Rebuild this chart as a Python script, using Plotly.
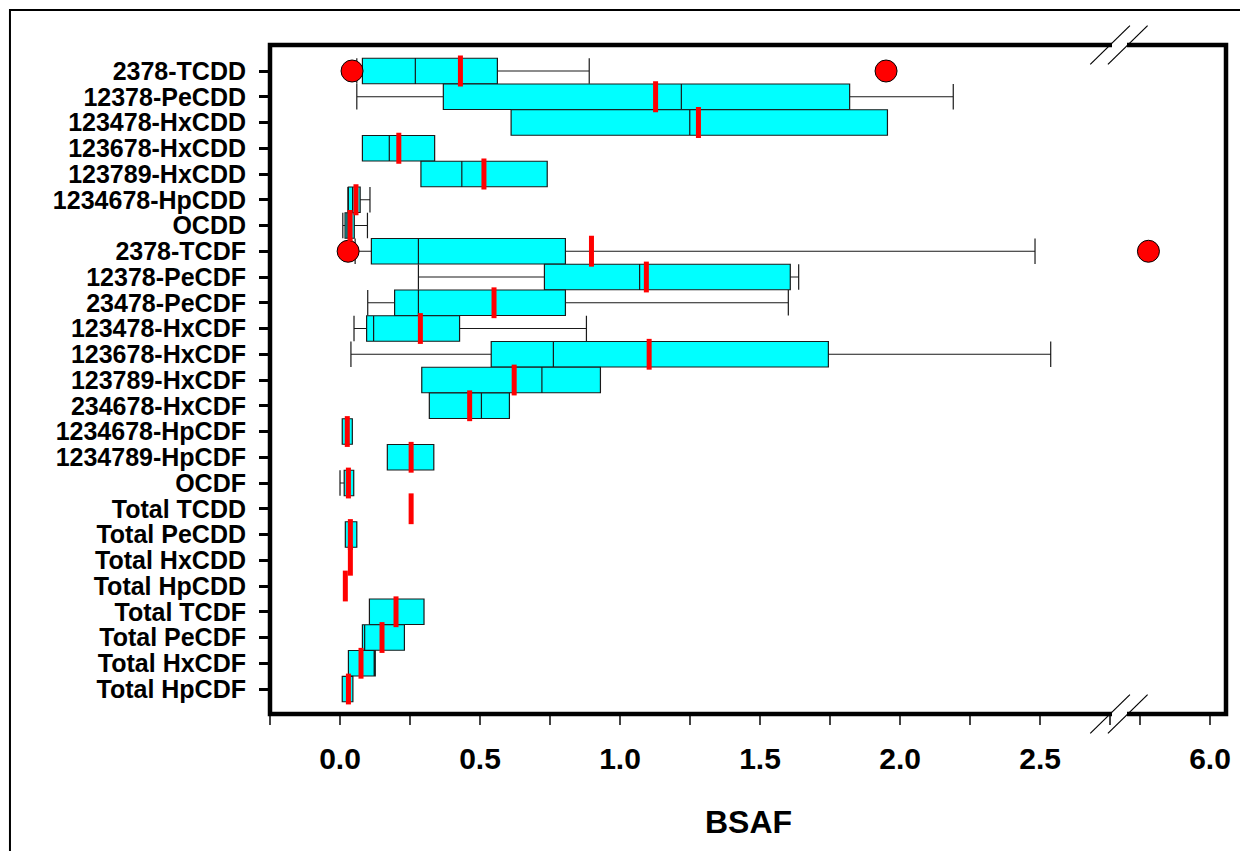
import plotly.graph_objects as go

# ---------------- data ----------------
categories = [
    "2378-TCDD", "12378-PeCDD", "123478-HxCDD", "123678-HxCDD", "123789-HxCDD",
    "1234678-HpCDD", "OCDD", "2378-TCDF", "12378-PeCDF", "23478-PeCDF",
    "123478-HxCDF", "123678-HxCDF", "123789-HxCDF", "234678-HxCDF",
    "1234678-HpCDF", "1234789-HpCDF", "OCDF", "Total TCDD", "Total PeCDD",
    "Total HxCDD", "Total HpCDD", "Total TCDF", "Total PeCDF", "Total HxCDF",
    "Total HpCDF",
]
# box statistics (None = no box for that row)
q1_vals = [0.080, 0.369, 0.611, 0.080, 0.289, 0.030, 0.018, 0.112, 0.730, 0.195,
           0.095, 0.540, 0.292, 0.319, 0.008, 0.169, 0.015, None, 0.019,
           None, None, 0.105, 0.080, 0.030, 0.008]
median_vals = [0.269, 1.219, 1.249, 0.176, 0.435, 0.045, 0.025, 0.280, 1.070, 0.280,
               0.120, 0.762, 0.721, 0.505, 0.026, 0.254, 0.030, None, 0.037,
               None, None, 0.200, 0.088, 0.122, 0.030]
q3_vals = [0.562, 1.820, 1.955, 0.338, 0.740, 0.072, 0.051, 0.805, 1.608, 0.805,
           0.427, 1.744, 0.930, 0.605, 0.044, 0.335, 0.049, None, 0.060,
           None, None, 0.300, 0.230, 0.126, 0.046]
low_whisker = [0.060, 0.060, 0.611, 0.080, 0.289, 0.028, 0.010, 0.054, 0.280, 0.099,
               0.050, 0.039, 0.292, 0.319, 0.008, 0.169, 0.000, None, 0.019,
               None, None, 0.105, 0.080, 0.030, 0.008]
high_whisker = [0.890, 2.190, 1.955, 0.338, 0.740, 0.107, 0.098, 2.482, 1.638, 1.601,
                0.880, 2.538, 0.930, 0.605, 0.044, 0.335, 0.049, None, 0.060,
                None, None, 0.300, 0.230, 0.126, 0.046]
mean_vals = [0.430, 1.127, 1.280, 0.210, 0.514, 0.057, 0.036, 0.898, 1.094, 0.550,
             0.287, 1.104, 0.622, 0.463, 0.026, 0.254, 0.030, 0.254, 0.037,
             0.037, 0.019, 0.200, 0.150, 0.075, 0.030]
outlier_cats = ["2378-TCDD", "2378-TCDD", "2378-TCDF", "2378-TCDF"]
outlier_vals = [0.043, 1.950, 0.029, 5.780]

x_ticks_main = [-0.25, 0.0, 0.25, 0.5, 0.75, 1.0, 1.25, 1.5, 1.75, 2.0, 2.25, 2.5, 2.75]
x_text_main = ["", "0.0", "", "0.5", "", "1.0", "", "1.5", "", "2.0", "", "2.5", ""]
x_ticks_high = [5.75, 6.0]
x_text_high = ["", "6.0"]

AXIS_BREAK = 2.784          # end of the lower segment
RANGE_LOW = [-0.25, AXIS_BREAK]
RANGE_HIGH = [5.677, 6.057]

# ---------------- figure ----------------
FONT = "Liberation Sans, Arial, Helvetica, sans-serif"
split = (RANGE_LOW[1] - RANGE_LOW[0]) / ((RANGE_LOW[1] - RANGE_LOW[0]) + (RANGE_HIGH[1] - RANGE_HIGH[0]))

fig = go.Figure()

lo_c = [c for c, v in zip(outlier_cats, outlier_vals) if v <= AXIS_BREAK]
lo_v = [v for v in outlier_vals if v <= AXIS_BREAK]
hi_c = [c for c, v in zip(outlier_cats, outlier_vals) if v > AXIS_BREAK]
hi_v = [v for v in outlier_vals if v > AXIS_BREAK]

outlier_marker = dict(symbol="circle", size=22, color="#ff0000",
                      line=dict(color="#000000", width=1))
fig.add_trace(go.Scatter(x=lo_v, y=lo_c, mode="markers", marker=outlier_marker,
                         xaxis="x", yaxis="y", hoverinfo="skip"))

idx = [i for i, q in enumerate(q1_vals) if q is not None]
fig.add_trace(go.Box(
    y=[categories[i] for i in idx],
    q1=[q1_vals[i] for i in idx],
    median=[median_vals[i] for i in idx],
    q3=[q3_vals[i] for i in idx],
    lowerfence=[low_whisker[i] for i in idx],
    upperfence=[high_whisker[i] for i in idx],
    orientation="h",
    width=0.99,
    whiskerwidth=1,
    fillcolor="#00ffff",
    line=dict(color="#1a1a1a", width=1.2),
    boxpoints=False,
    xaxis="x", yaxis="y", hoverinfo="skip",
))

fig.add_trace(go.Scatter(
    x=mean_vals, y=categories, mode="markers",
    marker=dict(symbol="line-ns", size=22, color="#ff0000",
                line=dict(color="#ff0000", width=5)),
    xaxis="x", yaxis="y", hoverinfo="skip",
))

fig.add_trace(go.Scatter(x=hi_v, y=hi_c, mode="markers", marker=outlier_marker,
                         xaxis="x2", yaxis="y", hoverinfo="skip"))

tick_common = dict(ticks="outside", ticklen=10, tickwidth=1.5, tickcolor="#444444",
                   showgrid=False, zeroline=False, showline=False,
                   tickfont=dict(family=FONT, size=30, color="#000000", weight="bold"),
                   ticklabelstandoff=8)

# page body has an 8px default margin, so the figure is sized/offset to compensate
fig.update_layout(
    width=1240, height=843, autosize=False,
    margin=dict(l=262, r=22, t=37, b=137),
    paper_bgcolor="white", plot_bgcolor="white",
    showlegend=False,
    xaxis=dict(domain=[0, split], range=RANGE_LOW, tickmode="array",
               tickvals=x_ticks_main, ticktext=x_text_main, anchor="y", **tick_common),
    xaxis2=dict(domain=[split, 1], range=RANGE_HIGH, tickmode="array",
                tickvals=x_ticks_high, ticktext=x_text_high, anchor="y", **tick_common),
    yaxis=dict(type="category", categoryorder="array", categoryarray=categories,
               tickmode="array", tickvals=categories, ticktext=categories,
               range=[len(categories) - 0.03, -1.01],
               ticks="outside", ticklen=10, tickwidth=3, tickcolor="#000000",
               showgrid=False, zeroline=False, showline=False,
               tickfont=dict(family=FONT, size=25, color="#000000", weight="bold"),
               ticklabelstandoff=8),
)

# x-axis title spanning the whole (broken) axis
fig.add_annotation(text="BSAF", xref="paper", yref="paper", x=0.5, y=-0.1614,
                   xanchor="center", yanchor="middle", showarrow=False,
                   font=dict(family=FONT, size=32, color="#000000", weight="bold"))

# plot frame
fig.add_shape(type="rect", xref="paper", yref="paper", x0=0, x1=1, y0=0, y1=1,
              line=dict(color="#000000", width=4.5), fillcolor="rgba(0,0,0,0)")
# outer figure frame
fig.add_shape(type="path", xref="paper", yref="paper",
              path="M -0.272,-0.25 L -0.272,1.0523 L 1.06,1.0523",
              line=dict(color="#000000", width=2))

# axis-break gaps and slashes
gx0, gx1 = 842 / 956, 857 / 956
for yc in (1.0, 0.0):
    fig.add_shape(type="rect", xref="paper", yref="paper", x0=gx0, x1=gx1,
                  y0=yc - 0.0075, y1=yc + 0.0075, line=dict(width=0), fillcolor="white")
    for xs in (0.0, 0.0185):
        fig.add_shape(type="line", xref="paper", yref="paper",
                      x0=0.8580 + xs, x1=0.8995 + xs, y0=yc - 0.029, y1=yc + 0.029,
                      line=dict(color="#000000", width=1.2))

fig.write_html("out.html")
